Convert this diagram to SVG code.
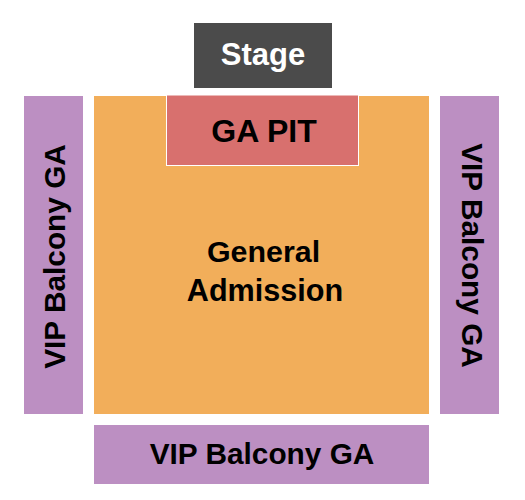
<svg xmlns="http://www.w3.org/2000/svg" width="525" height="500" viewBox="0 0 525 500">
<style>
text{font-family:"Liberation Sans",Arial,sans-serif;font-weight:bold;text-anchor:middle;fill:#000}
.vip{fill:#bc8fc2}
.vt{font-size:29.8px}
</style>
<rect width="525" height="500" fill="#fff"/>
<g id="stage"><rect x="194" y="23" width="138" height="65" fill="#4b4b4b"/><text x="263" y="65" font-size="31" style="fill:#fff">Stage</text></g>
<g id="general-admission"><rect x="94" y="96" width="335" height="318" fill="#f2ae5a"/><text x="263.5" y="261.5" font-size="30.4">General</text><text x="265" y="301" font-size="30.6">Admission</text></g>
<g id="ga-pit"><rect x="166.5" y="95" width="192" height="70.5" fill="#d8706e" stroke="#fff" stroke-width="1"/><text x="264" y="142" font-size="32">GA PIT</text></g>
<g id="vip-left"><rect class="vip" x="24" y="96" width="59" height="318"/><text class="vt" transform="translate(65,256.5) rotate(-90)">VIP Balcony GA</text></g>
<g id="vip-right"><rect class="vip" x="440" y="96" width="59" height="318"/><text class="vt" transform="translate(462,255.5) rotate(90)">VIP Balcony GA</text></g>
<g id="vip-bottom"><rect class="vip" x="94" y="425" width="335" height="59"/><text class="vt" x="262" y="464">VIP Balcony GA</text></g>
<g id="connectors"/>
</svg>
